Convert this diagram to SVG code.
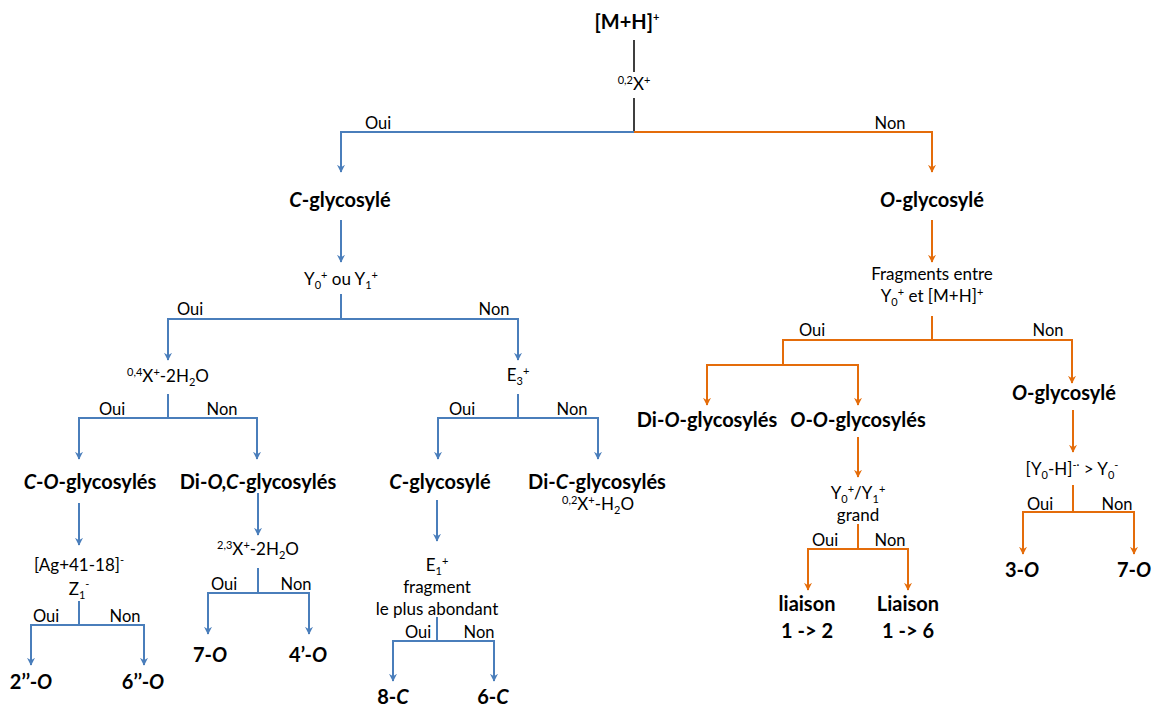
<svg xmlns="http://www.w3.org/2000/svg" width="1158" height="706" viewBox="0 0 1158 706">
<style>
text{font-family:Lato,"Noto Sans",sans-serif;fill:#000;text-anchor:middle}
.b{font-size:20px;font-weight:bold}
.r{font-size:17px}
.l{font-size:16.5px}
.s{font-size:11px}
.bl{fill:none;stroke:#4A7EBB;stroke-width:2}
.or{fill:none;stroke:#E46C0A;stroke-width:2}
.k{fill:none;stroke:#000;stroke-width:1.5}
</style>
<defs>
<marker id="ab" viewBox="0 0 10 10" refX="9" refY="5" markerWidth="8" markerHeight="8" orient="auto" markerUnits="userSpaceOnUse"><path d="M0,0 L10,5 L0,10 L3,5 z" fill="#4A7EBB"/></marker>
<marker id="ao" viewBox="0 0 10 10" refX="9" refY="5" markerWidth="8" markerHeight="8" orient="auto" markerUnits="userSpaceOnUse"><path d="M0,0 L10,5 L0,10 L3,5 z" fill="#E46C0A"/></marker>
</defs>
<g id="connectors">
<path class="k" d="M634,40 V72 M634,98 V132"/>
<path class="bl" d="M634,132 H341 V172" marker-end="url(#ab)"/>
<path class="or" d="M634,132 H932 V172" marker-end="url(#ao)"/>
<path class="bl" d="M341,220 V262" marker-end="url(#ab)"/>
<path class="bl" d="M341,294 V319 H168 V360" marker-end="url(#ab)"/>
<path class="bl" d="M341,319 H518 V360" marker-end="url(#ab)"/>
<path class="bl" d="M168,394 V418 H79 V459" marker-end="url(#ab)"/>
<path class="bl" d="M168,418 H257 V459" marker-end="url(#ab)"/>
<path class="bl" d="M518,394 V418 H438 V459" marker-end="url(#ab)"/>
<path class="bl" d="M518,418 H598 V459" marker-end="url(#ab)"/>
<path class="bl" d="M79,503 V545" marker-end="url(#ab)"/>
<path class="bl" d="M79,601 V625 H31 V665" marker-end="url(#ab)"/>
<path class="bl" d="M79,625 H144 V665" marker-end="url(#ab)"/>
<path class="bl" d="M258,493 V535" marker-end="url(#ab)"/>
<path class="bl" d="M258,568 V593 H208 V634" marker-end="url(#ab)"/>
<path class="bl" d="M258,593 H309 V634" marker-end="url(#ab)"/>
<path class="bl" d="M437,500 V541" marker-end="url(#ab)"/>
<path class="bl" d="M437,617 V641 H393 V681" marker-end="url(#ab)"/>
<path class="bl" d="M437,641 H494 V681" marker-end="url(#ab)"/>
<path class="or" d="M932,220 V262" marker-end="url(#ao)"/>
<path class="or" d="M932,316 V340 H783 V365 H707 V405" marker-end="url(#ao)"/>
<path class="or" d="M783,365 H858 V405" marker-end="url(#ao)"/>
<path class="or" d="M932,340 H1072 V383" marker-end="url(#ao)"/>
<path class="or" d="M858,437 V477" marker-end="url(#ao)"/>
<path class="or" d="M858,524 V549 H808 V590" marker-end="url(#ao)"/>
<path class="or" d="M858,549 H908 V590" marker-end="url(#ao)"/>
<path class="or" d="M1073,410 V452" marker-end="url(#ao)"/>
<path class="or" d="M1073,485 V512 H1023 V554" marker-end="url(#ao)"/>
<path class="or" d="M1073,512 H1134 V554" marker-end="url(#ao)"/>
</g>
<g id="edge-labels">
<text x="378" y="129" class="l">Oui</text><text x="890" y="129" class="l">Non</text>
<text x="190" y="315" class="l">Oui</text><text x="494" y="315" class="l">Non</text>
<text x="112" y="415" class="l">Oui</text><text x="222" y="415" class="l">Non</text>
<text x="462" y="415" class="l">Oui</text><text x="572" y="415" class="l">Non</text>
<text x="46" y="622" class="l">Oui</text><text x="125" y="622" class="l">Non</text>
<text x="224" y="590" class="l">Oui</text><text x="296" y="590" class="l">Non</text>
<text x="418" y="638" class="l">Oui</text><text x="479" y="638" class="l">Non</text>
<text x="812" y="336" class="l">Oui</text><text x="1048" y="336" class="l">Non</text>
<text x="825" y="546" class="l">Oui</text><text x="890" y="546" class="l">Non</text>
<text x="1040" y="510" class="l">Oui</text><text x="1117" y="510" class="l">Non</text>
</g>
<g id="n-mh"><text x="627" y="29" class="b">[M+H]<tspan class="s" dy="-8">+</tspan></text></g>
<g id="n-02x"><text x="634" y="90" class="r"><tspan class="s" dy="-6">0,2</tspan><tspan dy="6">X</tspan><tspan class="s" dy="-6">+</tspan></text></g>
<g id="n-cglyc"><text x="340" y="207" class="b"><tspan font-style="italic">C</tspan>-glycosylé</text></g>
<g id="n-oglyc"><text x="932" y="207" class="b"><tspan font-style="italic">O</tspan>-glycosylé</text></g>
<g id="n-y0y1"><text x="341" y="285" class="r">Y<tspan class="s" dy="4">0</tspan><tspan class="s" dy="-10">+</tspan><tspan dy="6"> ou Y</tspan><tspan class="s" dy="4">1</tspan><tspan class="s" dy="-10">+</tspan></text></g>
<g id="n-04x"><text x="168" y="382" class="r"><tspan class="s" dy="-6">0,4</tspan><tspan dy="6">X</tspan><tspan class="s" dy="-6">+</tspan><tspan dy="6">-2H</tspan><tspan class="s" dy="4">2</tspan><tspan dy="-4">O</tspan></text></g>
<g id="n-e3"><text x="518" y="381" class="r">E<tspan class="s" dy="4">3</tspan><tspan class="s" dy="-10">+</tspan></text></g>
<g id="n-co"><text x="90" y="489" class="b"><tspan font-style="italic">C</tspan>-<tspan font-style="italic">O</tspan>-glycosylés</text></g>
<g id="n-dioc"><text x="258" y="489" class="b">Di-<tspan font-style="italic">O,C</tspan>-glycosylés</text></g>
<g id="n-cglyc2"><text x="440" y="489" class="b"><tspan font-style="italic">C</tspan>-glycosylé</text></g>
<g id="n-dic"><text x="597" y="489" class="b">Di-<tspan font-style="italic">C</tspan>-glycosylés</text>
<text x="598" y="510" class="r"><tspan class="s" dy="-6">0,2</tspan><tspan dy="6">X</tspan><tspan class="s" dy="-6">+</tspan><tspan dy="6">-H</tspan><tspan class="s" dy="4">2</tspan><tspan dy="-4">O</tspan></text></g>
<g id="n-ag"><text x="79" y="571" class="r">[Ag+41-18]<tspan class="s" dy="-7">-</tspan></text>
<text x="79" y="595" class="r">Z<tspan class="s" dy="4">1</tspan><tspan class="s" dy="-11">-</tspan></text></g>
<g id="n-2o"><text x="31" y="689" class="b">2’’-<tspan font-style="italic">O</tspan></text></g>
<g id="n-6o"><text x="143" y="689" class="b">6’’-<tspan font-style="italic">O</tspan></text></g>
<g id="n-23x"><text x="258" y="555" class="r"><tspan class="s" dy="-6">2,3</tspan><tspan dy="6">X</tspan><tspan class="s" dy="-6">+</tspan><tspan dy="6">-2H</tspan><tspan class="s" dy="4">2</tspan><tspan dy="-4">O</tspan></text></g>
<g id="n-7o-l"><text x="210" y="662" class="b">7-<tspan font-style="italic">O</tspan></text></g>
<g id="n-4o"><text x="308" y="662" class="b">4’-<tspan font-style="italic">O</tspan></text></g>
<g id="n-e1"><text x="437" y="571" class="r">E<tspan class="s" dy="4">1</tspan><tspan class="s" dy="-10">+</tspan></text>
<text x="437" y="593" class="r">fragment</text>
<text x="437" y="615" class="r">le plus abondant</text></g>
<g id="n-8c"><text x="393" y="704" class="b">8-<tspan font-style="italic">C</tspan></text></g>
<g id="n-6c"><text x="493" y="704" class="b">6-<tspan font-style="italic">C</tspan></text></g>
<g id="n-frag"><text x="932" y="280" class="r">Fragments entre</text>
<text x="932" y="302" class="r">Y<tspan class="s" dy="4">0</tspan><tspan class="s" dy="-10">+</tspan><tspan dy="6"> et [M+H]</tspan><tspan class="s" dy="-6">+</tspan></text></g>
<g id="n-dio"><text x="707" y="427" class="b">Di-<tspan font-style="italic">O</tspan>-glycosylés</text></g>
<g id="n-oo"><text x="858" y="427" class="b"><tspan font-style="italic">O</tspan>-<tspan font-style="italic">O</tspan>-glycosylés</text></g>
<g id="n-oglyc2"><text x="1064" y="400" class="b"><tspan font-style="italic">O</tspan>-glycosylé</text></g>
<g id="n-y0y1g"><text x="858" y="499" class="r">Y<tspan class="s" dy="4">0</tspan><tspan class="s" dy="-10">+</tspan><tspan dy="6">/Y</tspan><tspan class="s" dy="4">1</tspan><tspan class="s" dy="-10">+</tspan></text>
<text x="858" y="521" class="r">grand</text></g>
<g id="n-l12"><text x="807" y="611" class="b">liaison</text><text x="807" y="638" class="b">1 -&gt; 2</text></g>
<g id="n-l16"><text x="908" y="611" class="b">Liaison</text><text x="908" y="638" class="b">1 -&gt; 6</text></g>
<g id="n-y0h"><text x="1072" y="475" class="r">[Y<tspan class="s" dy="4">0</tspan><tspan dy="-4">-H]</tspan><tspan class="s" dy="-6">-·</tspan><tspan dy="6"> &gt; Y</tspan><tspan class="s" dy="4">0</tspan><tspan class="s" dy="-10">-</tspan></text></g>
<g id="n-3o"><text x="1022" y="577" class="b">3-<tspan font-style="italic">O</tspan></text></g>
<g id="n-7o-r"><text x="1134" y="577" class="b">7-<tspan font-style="italic">O</tspan></text></g>
</svg>
